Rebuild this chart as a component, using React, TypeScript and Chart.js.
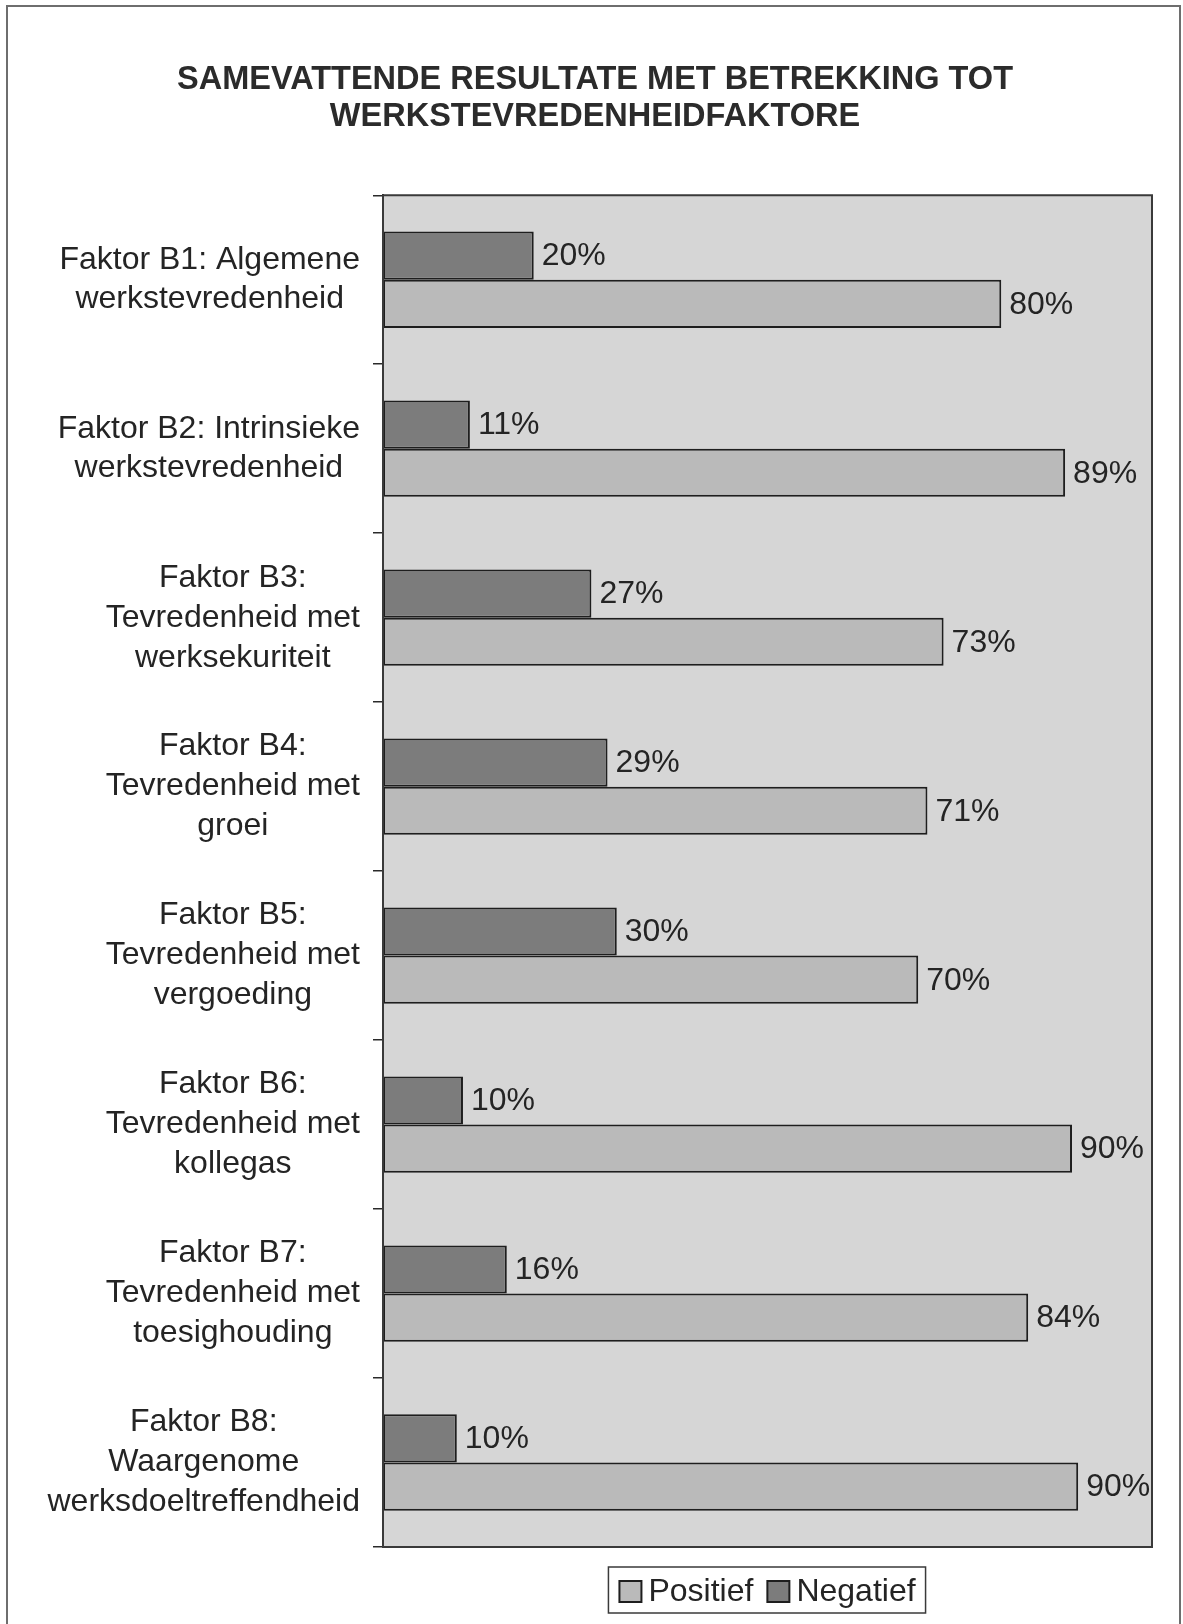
import React, { useEffect, useRef } from "react";
import { Chart, registerables } from "chart.js";

Chart.register(...registerables);

const TITLE_LINES = [
  "SAMEVATTENDE RESULTATE MET BETREKKING TOT",
  "WERKSTEVREDENHEIDFAKTORE",
];

const CATEGORIES: string[][] = [
  ["Faktor B1: Algemene", "werkstevredenheid"],
  ["Faktor B2: Intrinsieke", "werkstevredenheid"],
  ["Faktor B3:", "Tevredenheid met", "werksekuriteit"],
  ["Faktor B4:", "Tevredenheid met", "groei"],
  ["Faktor B5:", "Tevredenheid met", "vergoeding"],
  ["Faktor B6:", "Tevredenheid met", "kollegas"],
  ["Faktor B7:", "Tevredenheid met", "toesighouding"],
  ["Faktor B8:", "Waargenome", "werksdoeltreffendheid"],
];

const NEGATIEF = [19.6, 11.3, 27.1, 29.2, 30.4, 10.4, 16.1, 9.6];
const POSITIEF = [80.4, 88.7, 72.9, 70.8, 69.6, 89.6, 83.9, 90.4];

const SERIES_NAMES = ["Negatief", "Positief"];
const LEGEND_ORDER = ["Positief", "Negatief"];

const AXIS_MIN = 0;
const AXIS_MAX = 100;

const FONT = "'Liberation Sans', Arial, Helvetica, sans-serif";
const TEXT_COLOR = "#242424";
const PLOT_BG = "#d6d6d6";
const POS_COLOR = "#bababa";
const NEG_COLOR = "#7c7c7c";
const EDGE_COLOR = "#1e1e1e";

const decorPlugin = {
  id: "decor",
  beforeDraw(chart: any) {
    const { ctx, chartArea: a } = chart;
    ctx.save();
    ctx.fillStyle = "#ffffff";
    ctx.fillRect(0, 0, chart.width, chart.height);
    ctx.fillStyle = PLOT_BG;
    ctx.fillRect(a.left, a.top, a.right - a.left, a.bottom - a.top);
    // page frame (top, left, right)
    ctx.strokeStyle = "#6e6e6e";
    ctx.lineWidth = 2;
    ctx.beginPath();
    ctx.moveTo(7, chart.height);
    ctx.lineTo(7, 6);
    ctx.lineTo(1180, 6);
    ctx.lineTo(1180, chart.height);
    ctx.stroke();
    ctx.restore();
  },
  afterDatasetsDraw(chart: any) {
    const { ctx, chartArea: a } = chart;
    ctx.save();
    ctx.strokeStyle = "#3a3a3a";
    ctx.lineWidth = 2;
    ctx.strokeRect(a.left, a.top, a.right - a.left, a.bottom - a.top);
    // value labels
    ctx.font = `32px ${FONT}`;
    ctx.fillStyle = TEXT_COLOR;
    ctx.textAlign = "left";
    ctx.textBaseline = "middle";
    chart.data.datasets.forEach((ds: any, di: number) => {
      const meta = chart.getDatasetMeta(di);
      meta.data.forEach((el: any, i: number) => {
        const v = ds.data[i];
        ctx.fillText(`${Math.round(v)}%`, el.x + 8, el.y + 1);
      });
    });
    ctx.restore();
  },
  afterDraw(chart: any) {
    const { ctx, chartArea: a } = chart;
    const yScale = chart.scales.y;
    ctx.save();
    // category labels: block right-aligned, lines centred within block
    ctx.font = `32px ${FONT}`;
    ctx.fillStyle = TEXT_COLOR;
    ctx.textAlign = "center";
    ctx.textBaseline = "middle";
    const rightEdge = 360;
    (chart.data.labels as string[][]).forEach((lines, i) => {
      const yc = yScale.getPixelForValue(i);
      const lh = lines.length === 3 ? 40 : 39.5;
      const maxW = Math.max(...lines.map((l) => ctx.measureText(l).width));
      const cx = rightEdge - maxW / 2;
      const y0 = yc - ((lines.length - 1) * lh) / 2;
      lines.forEach((l, k) => ctx.fillText(l, cx, y0 + k * lh));
    });

    // legend
    const items = LEGEND_ORDER.map((name) => {
      const ds = chart.data.datasets.find((d: any) => d.label === name);
      return { name, color: ds.backgroundColor, w: ctx.measureText(name).width };
    });
    const box = 22;
    const gap = 7;
    const itemGap = 14;
    const total =
      items.reduce((s, it) => s + box + gap + it.w, 0) + itemGap * (items.length - 1);
    const centerX = (a.left + a.right) / 2;
    let x = centerX - total / 2;
    const yMid = 1591;
    ctx.strokeStyle = "#3a3a3a";
    ctx.lineWidth = 1.5;
    ctx.strokeRect(x - 11, 1567, total + 21, 46);
    ctx.textAlign = "left";
    items.forEach((it) => {
      ctx.fillStyle = it.color;
      ctx.fillRect(x, yMid - 10, box, 21);
      ctx.strokeStyle = EDGE_COLOR;
      ctx.lineWidth = 2;
      ctx.strokeRect(x, yMid - 10, box, 21);
      ctx.fillStyle = TEXT_COLOR;
      ctx.fillText(it.name, x + box + gap, yMid + 1);
      x += box + gap + it.w + itemGap;
    });
    ctx.restore();
  },
};

export default function App() {
  const ref = useRef<HTMLCanvasElement | null>(null);

  useEffect(() => {
    document.body.style.margin = "0";
    if (!ref.current) return;
    const chart = new Chart(ref.current, {
      type: "bar",
      data: {
        labels: CATEGORIES,
        datasets: [
          {
            label: SERIES_NAMES[0],
            data: NEGATIEF,
            backgroundColor: NEG_COLOR,
            borderColor: EDGE_COLOR,
            borderWidth: 2,
            borderSkipped: false,
            categoryPercentage: 0.57,
            barPercentage: 1,
          },
          {
            label: SERIES_NAMES[1],
            data: POSITIEF,
            backgroundColor: POS_COLOR,
            borderColor: EDGE_COLOR,
            borderWidth: 2,
            borderSkipped: false,
            categoryPercentage: 0.57,
            barPercentage: 1,
          },
        ],
      },
      options: {
        indexAxis: "y",
        animation: false,
        responsive: true,
        maintainAspectRatio: false,
        layout: { padding: { left: 38, right: 31, top: 0, bottom: 77 } },
        plugins: {
          legend: { display: false },
          tooltip: { enabled: false },
          title: {
            display: true,
            text: TITLE_LINES,
            color: "#2b2b2b",
            font: { family: FONT, size: 32.5, weight: "bold", lineHeight: 1.15 },
            padding: { top: 61, bottom: 59.5 },
          },
        },
        scales: {
          x: {
            display: false,
            min: AXIS_MIN,
            max: AXIS_MAX,
          },
          y: {
            display: true,
            ticks: { display: false },
            grid: {
              offset: true,
              drawOnChartArea: false,
              drawTicks: true,
              tickLength: 10,
              color: "#2a2a2a",
              lineWidth: 1.5,
            },
            border: { display: true, color: "#2a2a2a", width: 2 },
            afterFit: (scale: any) => {
              scale.width = 345;
            },
          },
        },
      },
      plugins: [decorPlugin],
    });
    return () => chart.destroy();
  }, []);

  return (
    <div style={{ position: "relative", width: "1183px", height: "1624px" }}>
      <canvas ref={ref} />
    </div>
  );
}
